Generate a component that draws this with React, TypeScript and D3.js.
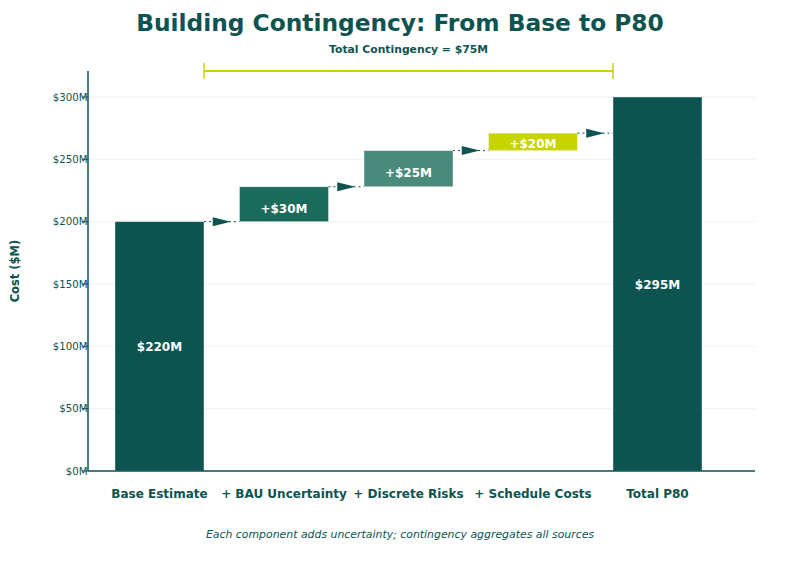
import React from 'react';
import * as d3 from 'd3';

// データ
const categories = ['Base Estimate', '+ BAU Uncertainty', '+ Discrete Risks', '+ Schedule Costs', 'Total P80'];
const stepValues = [200, 28, 29, 14]; // 棒の高さ（軸の単位）
const totalValue = 300;
const valueLabels = ['$220M', '+$30M', '+$25M', '+$20M', '$295M'];
const barColors = ['#0d5350', '#1b6b5a', '#4a8a7a', '#c8d400', '#0d5350'];
const yTicks = [0, 50, 100, 150, 200, 250, 300];
const contingencyLabel = 'Total Contingency = $75M';

const W = 800;
const H = 578;
const dark = '#0d5350';
const font = 'DejaVu Sans, sans-serif';

interface Bar {
  name: string;
  y0: number;
  y1: number;
  color: string;
  label: string;
}

const App: React.FC = () => {
  const axisX = 88;
  const plotRight = 755;
  const plotTop = 71;

  const x = d3.scaleBand<string>()
    .domain(categories)
    .range([79.5, 737.5])
    .paddingInner(0.285)
    .paddingOuter(0.285);

  const y = d3.scaleLinear().domain([0, 300]).range([471, 97]);

  // 累積で棒を作る
  const bars: Bar[] = [];
  let cum = 0;
  stepValues.forEach((v, i) => {
    bars.push({ name: categories[i], y0: cum, y1: cum + v, color: barColors[i], label: valueLabels[i] });
    cum += v;
  });
  bars.push({ name: categories[4], y0: 0, y1: totalValue, color: barColors[4], label: valueLabels[4] });

  const bw = x.bandwidth();
  const bracketX0 = x(categories[0])! + bw;
  const bracketX1 = x(categories[4])!;

  // 増分ラベルは少し下げる（小さい棒はあまり下げない）
  const labelShift = (b: Bar, i: number) => {
    if (i === 0 || i === 4) return 0.5;
    const h = y(b.y0) - y(b.y1);
    return h < 25 ? 2 : 4.5;
  };

  return (
    <svg width={W} height={H} style={{ position: 'absolute', left: 0, top: 0, fontFamily: font }}>
      <rect width={W} height={H} fill="#fff" />

      {/* タイトル */}
      <text x={400} y={31} textAnchor="middle" fontSize={23.3} fontWeight="bold" fill={dark}>
        Building Contingency: From Base to P80
      </text>

      {/* グリッド */}
      {yTicks.map(t => (
        <line key={'g' + t} x1={axisX} x2={plotRight} y1={y(t)} y2={y(t)} stroke="#e8f4f1" strokeWidth={1} />
      ))}

      {/* 棒 */}
      {bars.map(b => (
        <rect
          key={b.name}
          x={x(b.name)}
          y={y(b.y1)}
          width={bw}
          height={y(b.y0) - y(b.y1)}
          fill={b.color}
          stroke="#ffffff"
          strokeOpacity={0.5}
          strokeWidth={0.8}
        />
      ))}

      {/* 接続線と矢印 */}
      {bars.slice(0, 4).map((b, i) => {
        const xa = x(b.name)! + bw;
        const xb = x(bars[i + 1].name)!;
        const yy = y(b.y1);
        const mid = (xa + xb) / 2;
        return (
          <g key={'c' + i}>
            <line x1={xa} x2={xb} y1={yy} y2={yy} stroke={dark} strokeWidth={1} strokeDasharray="2,3" />
            <path d={`M${mid - 9},${yy - 4.5}L${mid + 9},${yy}L${mid - 9},${yy + 4.5}Z`} fill={dark} />
          </g>
        );
      })}

      {/* 値ラベル */}
      {bars.map((b, i) => (
        <text
          key={'l' + b.name}
          x={x(b.name)! + bw / 2}
          y={(y(b.y0) + y(b.y1)) / 2 + labelShift(b, i)}
          dy="0.35em"
          textAnchor="middle"
          fontSize={12}
          fontWeight="bold"
          fill="#fff"
        >
          {b.label}
        </text>
      ))}

      {/* 軸 */}
      <line x1={axisX} x2={axisX} y1={plotTop} y2={471} stroke={dark} strokeWidth={1.5} />
      <line x1={axisX} x2={plotRight} y1={471} y2={471} stroke={dark} strokeWidth={1.5} />
      {yTicks.map(t => (
        <g key={'t' + t}>
          <line x1={axisX - 6} x2={axisX} y1={y(t)} y2={y(t)} stroke={dark} strokeWidth={1} />
          <text x={axisX - 0.5} y={y(t)} dy="0.35em" textAnchor="end" fontSize={10.2} fill={dark}>
            {`$${t}M`}
          </text>
        </g>
      ))}

      {/* カテゴリ */}
      {categories.map(c => (
        <text key={'x' + c} x={x(c)! + bw / 2} y={498} textAnchor="middle" fontSize={12} fontWeight="bold" fill={dark}>
          {c}
        </text>
      ))}

      <text transform="translate(19,271) rotate(-90)" textAnchor="middle" fontSize={11.5} fontWeight="bold" fill={dark}>
        Cost ($M)
      </text>

      {/* ブラケット */}
      <line x1={bracketX0} x2={bracketX1} y1={71} y2={71} stroke="#c8d400" strokeWidth={2} />
      <line x1={bracketX0} x2={bracketX0} y1={63} y2={79} stroke="#c8d400" strokeWidth={1.5} />
      <line x1={bracketX1} x2={bracketX1} y1={63} y2={79} stroke="#c8d400" strokeWidth={1.5} />
      <text x={(bracketX0 + bracketX1) / 2} y={53} textAnchor="middle" fontSize={10.8} fontWeight="bold" fill={dark}>
        {contingencyLabel}
      </text>

      <text x={400} y={538} textAnchor="middle" fontSize={10.9} fontStyle="italic" fill={dark}>
        Each component adds uncertainty; contingency aggregates all sources
      </text>
    </svg>
  );
};

export default App;
